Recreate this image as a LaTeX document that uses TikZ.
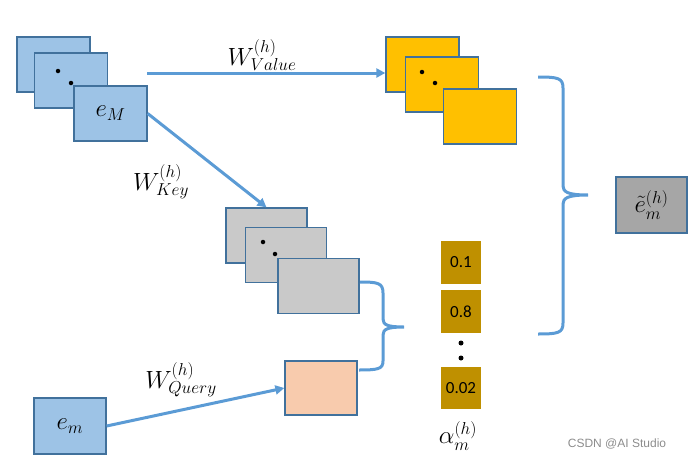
\documentclass[tikz,border=0pt]{standalone}
\usepackage{fontspec}
\newfontfamily\numfont{Carlito}
\newfontfamily\wmfont{Liberation Sans}
\usetikzlibrary{arrows.meta}
\definecolor{bluefill}{HTML}{9DC3E6}
\definecolor{boxedge}{HTML}{41719C}
\definecolor{orangefill}{HTML}{FFC000}
\definecolor{grayfill}{HTML}{C9C9C9}
\definecolor{peachfill}{HTML}{F8CBAD}
\definecolor{alphafill}{HTML}{BF9000}
\definecolor{resfill}{HTML}{A6A6A6}
\definecolor{conncol}{HTML}{5B9BD5}
\begin{document}
\begin{tikzpicture}[x=1pt,y=-1pt,
  box/.style={draw=boxedge,line width=1.3pt,minimum width=73pt,minimum height=55pt,inner sep=0pt,font=\fontsize{25}{30}\selectfont},
  bluebox/.style={box,fill=bluefill},
  orangebox/.style={box,fill=orangefill},
  graybox/.style={box,fill=grayfill,minimum width=81pt,minimum height=55pt},
  alphabox/.style={fill=alphafill,minimum width=40pt,minimum height=43pt,inner sep=0pt,font=\numfont\fontsize{17}{20}\selectfont},
  conn/.style={draw=conncol,line width=3pt,-{Triangle[length=9pt,width=9pt]}},
  brace/.style={draw=conncol,line width=3pt},
  lbl/.style={font=\fontsize{25}{30}\selectfont,inner sep=0pt},
  dot/.style={circle,fill=black,inner sep=0pt,minimum size=4.5pt}]
\useasboundingbox (0,0) rectangle (696,463);
% blue stack
\node[bluebox] (b1) at (53.5,64.5) {};
\node[bluebox] (b2) at (71,80.5) {};
\node[bluebox] (b3) at (110.5,113.5) {$e_M$};
\node[dot] (bd1) at (58,71) {};
\node[dot] (bd2) at (71,83) {};
% orange stack
\node[orangebox] (o1) at (422.5,64.5) {};
\node[orangebox] (o2) at (442,84.5) {};
\node[orangebox] (o3) at (480,116.5) {};
\node[dot] (od1) at (422,72) {};
\node[dot] (od2) at (435,83) {};
% gray stack
\node[graybox] (g1) at (266.5,235.5) {};
\node[graybox] (g2) at (286,255) {};
\node[graybox] (g3) at (318.5,286) {};
\node[dot] (gd1) at (263,242) {};
\node[dot] (gd2) at (275,254) {};
% query
\node[box,fill=peachfill,minimum width=72pt,minimum height=54pt] (q) at (321,388) {};
\node[bluebox,minimum width=72pt,minimum height=56pt] (em) at (70,426) {$e_m$};
% alpha
\node[alphabox] (a1) at (461,262.5) {0.1};
\node[alphabox] (a2) at (461,311.5) {0.8};
\node[alphabox,minimum height=42pt] (a3) at (461,388) {0.02};
\node[dot,minimum size=5pt] (ad1) at (461,343) {};
\node[dot,minimum size=5pt] (ad2) at (461,358) {};
\node[lbl] (alab) at (458,436) {$\alpha_m^{(h)}$};
% result
\node[box,fill=resfill,minimum width=71pt,minimum height=56pt] (res) at (651.5,205) {$\tilde{e}_m^{(h)}$};
% labels
\node[lbl] (wv) at (262,55) {$W_{Value}^{(h)}$};
\node[lbl] (wk) at (161,182) {$W_{Key}^{(h)}$};
\node[lbl] (wq) at (181,380) {$W_{Query}^{(h)}$};
% connectors
\coordinate (vs) at (147,73);
\draw[conn] (vs) -- (vs -| o1.west);
\draw[conn] (b3.east) -- (g1.north);
\draw[conn] (em.east) -- (q.west);
% small brace
\coordinate (sb1) at (360,282);
\coordinate (sbt) at (404,327);
\coordinate (sb2) at (359,370);
\draw[brace] (sb1) .. controls (378,282) and (383,283) .. (383,293) -- (383,319)
  .. controls (383,325) and (388,327) .. (sbt)
  .. controls (388,327) and (383,329) .. (383,335) -- (383,361)
  .. controls (383,369) and (378,370) .. (sb2);
% big brace
\coordinate (bb1) at (538,77);
\coordinate (bbt) at (588,195);
\coordinate (bb2) at (538,334);
\draw[brace] (bb1) .. controls (558,77) and (563,78) .. (563,88) -- (563,186)
  .. controls (563,192) and (568,195) .. (bbt)
  .. controls (568,195) and (563,198) .. (563,204) -- (563,323)
  .. controls (563,333) and (558,334) .. (bb2);
% watermark
\node[font=\wmfont\fontsize{12}{14}\selectfont,text=black!45,inner sep=0pt] (wm) at (617,444) {CSDN @AI Studio};
\end{tikzpicture}
\end{document}
